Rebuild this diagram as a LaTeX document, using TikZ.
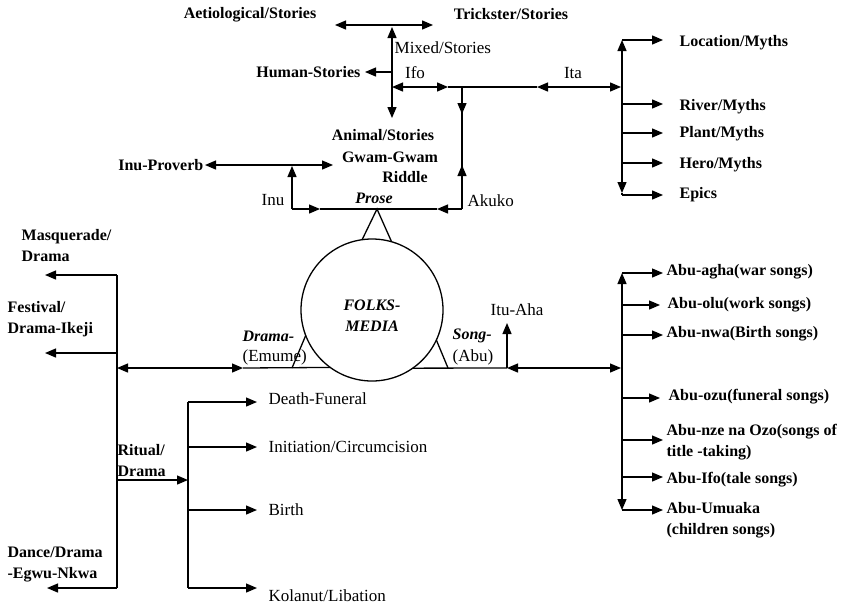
\documentclass[tikz,border=0pt]{standalone}
\usepackage{fontspec}
\setmainfont{Liberation Serif}
\usetikzlibrary{arrows.meta}

\tikzset{
  lbl/.style={inner sep=1pt,font=\fontsize{17}{21}\selectfont},
  blbl/.style={lbl,font=\fontsize{16}{21}\selectfont\bfseries},
  bilbl/.style={lbl,font=\fontsize{16}{21}\selectfont\bfseries\itshape},
  leaf/.style={anchor=west,inner xsep=#1},
  leaf/.default=3pt
}

\begin{document}
\begin{tikzpicture}[x=1pt,y=-1pt,line width=1.3pt,>={Triangle[length=11pt,width=9pt]}]
\useasboundingbox (0,0) rectangle (851,606);

% centre
\node[draw,circle,minimum size=142pt,inner sep=0pt,outer sep=0pt] (fm) at (372,310) {};
\node[bilbl,align=center] (fmtxt) at (372,316) {FOLKS-\\MEDIA};

% stories
\node[blbl] (aet) at (250,15) {Aetiological/Stories};
\node[blbl] (trk) at (511,14) {Trickster/Stories};
\node[lbl,anchor=west] (mix) at (393,48) {Mixed/Stories};
\node[blbl,anchor=east,inner xsep=4pt] (hum) at (365,72) {Human-Stories};
\node[lbl] (ifo) at (415,73) {Ifo};
\node[lbl] (ita) at (573,73) {Ita};
\node[blbl] (ani) at (383,135) {Animal/Stories};
\node[blbl] (gwm) at (390,157) {Gwam-Gwam};
\node[blbl] (rid) at (405,177) {Riddle};
\node[blbl,anchor=east] (prov) at (205,165) {Inu-Proverb};
\node[lbl] (inu) at (273,200) {Inu};
\node[bilbl] (pros) at (374,198) {Prose};
\node[lbl,anchor=west] (aku) at (466,201) {Akuko};

\coordinate (stL) at (335,25);
\coordinate (stR) at (433,25);
\coordinate (mxT) at (392,27);
\coordinate (mxB) at (392,118);
\coordinate (hmJ) at (392,72);
\draw[<->] (stL) -- (stR);
\draw[<->] (mxB) -- (mxT);
\draw[->] (hmJ) -- (hum.east);

% ifo / ita line
\coordinate (ifL) at (392,87);
\coordinate (ifR) at (448,87);
\coordinate (itL) at (537,87);
\coordinate (itR) at (621,87);
\draw[<->] (ifL) -- (ifR);
\draw (ifR) -- (itL);
\draw[<->] (itL) -- (itR);

% akuko / inu / prose
\coordinate (akT) at (462,87);
\coordinate (akM) at (462,114);
\coordinate (akU) at (462,165);
\coordinate (akB) at (462,209);
\coordinate (inuB) at (292,209);
\coordinate (inuT) at (292,166);
\coordinate (pvR) at (333,165);
\coordinate (prL) at (320,209);
\coordinate (prR) at (437,209);
\coordinate (prA) at (377,209);
\draw (akT) -- (akB);
\draw[->] (akT) -- (akM);
\draw[->] (akB) -- (akU);
\draw[->] (inuB) -- (inuT);
\draw[<->] (prov.east) -- (pvR);
\draw[->] (inuB) -- (prL);
\draw (prL) -- (prR);
\draw[->] (akB) -- (prR);
\draw (fm.98) -- (prA) -- (fm.74);

% myths
\node[blbl,leaf=16pt] (loc) at (663,43) {Location/Myths};
\node[blbl,leaf=16pt] (riv) at (663,107) {River/Myths};
\node[blbl,leaf=16pt] (pla) at (663,134) {Plant/Myths};
\node[blbl,leaf=16pt] (her) at (663,165) {Hero/Myths};
\node[blbl,leaf=16pt] (epi) at (663,195) {Epics};
\coordinate (my1) at (622,40);
\coordinate (my2) at (622,104);
\coordinate (my3) at (622,133);
\coordinate (my4) at (622,163);
\coordinate (my5) at (622,195);
\draw[<->] (622,193) -- (622,40);
\draw[->] (my1) -- (my1 -| loc.west);
\draw[->] (my2) -- (my2 -| riv.west);
\draw[->] (my3) -- (my3 -| pla.west);
\draw[->] (my4) -- (my4 -| her.west);
\draw (622,193) -- (my5);
\draw[->] (my5) -- (my5 -| epi.west);

% drama and song
\node[bilbl,anchor=west] (dram) at (241,336) {Drama-};
\node[lbl,anchor=west] (emu) at (241,357) {(Emume)};
\node[bilbl,anchor=west] (song) at (451,336) {Song-};
\node[lbl,anchor=west] (abu) at (451,357) {(Abu)};
\node[lbl,anchor=west] (itu) at (489,310) {Itu-Aha};

\coordinate (dm1) at (117,275);
\coordinate (dm2) at (117,353);
\coordinate (dm3) at (117,368);
\coordinate (dm4) at (117,480);
\coordinate (dm5) at (117,588);
\coordinate (drA) at (243,368);
\coordinate (drB) at (292,368);
\coordinate (sgB) at (448,368);
\coordinate (sgA) at (507,368);
\coordinate (sgR) at (621,368);
\coordinate (ituT) at (507,323);
\draw[<->] (dm3) -- (drA);
\draw (drA) -- (fm.234.7);
\draw (drB) -- (fm.201);
\draw (fm.305.3) -- (sgA);
\draw[<->] (sgA) -- (sgR);
\draw (sgB) -- (fm.335);
\draw[->] (sgA) -- (ituT);

% drama kinds
\node[blbl,anchor=west,align=left] (masq) at (20,246) {Masquerade/\\Drama};
\node[blbl,anchor=west,align=left] (fest) at (6,319) {Festival/\\Drama-Ikeji};
\node[blbl,anchor=west,align=left] (dnc) at (6,564) {Dance/Drama\\-Egwu-Nkwa};
\node[blbl,anchor=west,align=left] (rit) at (116,461) {Ritual/\\Drama};
\coordinate (ms) at (45,275);
\coordinate (fs) at (45,353);
\coordinate (dc) at (47,588);
\draw (dm1) -- (dm5);
\draw[->] (dm1) -- (ms);
\draw[->] (dm2) -- (fs);
\draw[->] (dm5) -- (dc);

% ritual
\node[lbl,leaf=11pt] (dth) at (257,399) {Death-Funeral};
\node[lbl,leaf=11pt] (ini) at (257,447) {Initiation/Circumcision};
\node[lbl,leaf=11pt] (bir) at (257,510) {Birth};
\node[lbl,leaf=11pt] (kol) at (257,596) {Kolanut/Libation};
\coordinate (rt1) at (188,402);
\coordinate (rt2) at (188,447);
\coordinate (rt3) at (188,480);
\coordinate (rt4) at (188,510);
\coordinate (rt5) at (188,588);
\draw (rt1) -- (rt5);
\draw[->] (dm4) -- (rt3);
\draw[->] (rt1) -- (rt1 -| dth.west);
\draw[->] (rt2) -- (rt2 -| ini.west);
\draw[->] (rt4) -- (rt4 -| bir.west);
\draw[->] (rt5) -- (rt5 -| kol.west);

% songs
\node[blbl,leaf] (agh) at (663,272) {Abu-agha(war songs)};
\node[blbl,leaf=7pt] (olu) at (660,305) {Abu-olu(work songs)};
\node[blbl,leaf] (nwa) at (663,334) {Abu-nwa(Birth songs)};
\node[blbl,leaf=8pt] (ozu) at (660,397) {Abu-ozu(funeral songs)};
\node[blbl,leaf,align=left] (nze) at (663,442) {Abu-nze na Ozo(songs of\\title -taking)};
\node[blbl,leaf] (ifs) at (663,480) {Abu-Ifo(tale songs)};
\node[blbl,leaf,align=left] (umu) at (663,520) {Abu-Umuaka\\(children songs)};
\coordinate (ab1) at (622,273);
\coordinate (ab2) at (622,305);
\coordinate (ab3) at (622,335);
\coordinate (ab4) at (622,398);
\coordinate (ab5) at (622,440);
\coordinate (ab6) at (622,477);
\coordinate (ab7) at (622,510);
\draw[<->] (ab7) -- (ab1);
\draw[->] (ab1) -- (ab1 -| agh.west);
\draw[->] (ab2) -- (ab2 -| olu.west);
\draw[->] (ab3) -- (ab3 -| nwa.west);
\draw[->] (ab4) -- (ab4 -| ozu.west);
\draw[->] (ab5) -- (ab5 -| nze.west);
\draw[->] (ab6) -- (ab6 -| ifs.west);
\draw[->] (ab7) -- (ab7 -| umu.west);
\end{tikzpicture}
\end{document}
